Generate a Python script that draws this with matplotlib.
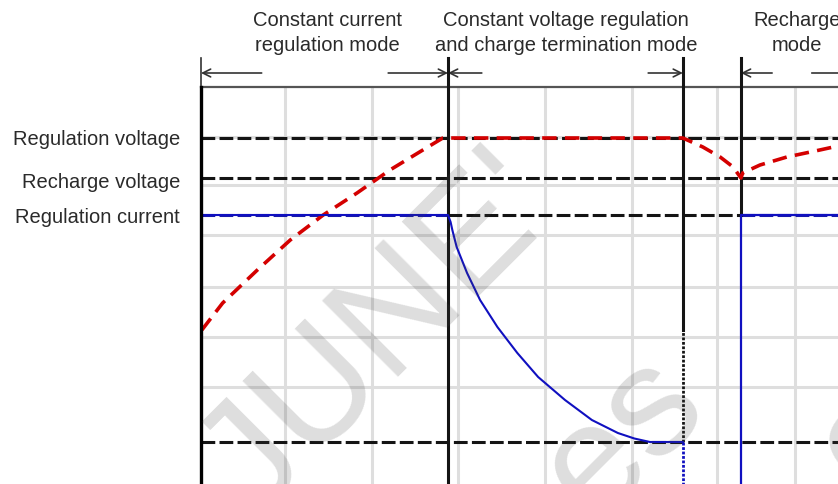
import numpy as np
import matplotlib.pyplot as plt

plt.rcParams['font.family'] = ['Liberation Sans', 'DejaVu Sans']

# levels in grid rows (1 unit = one grid row), times in grid columns
regulation_voltage = 6.98
recharge_voltage = 6.18
regulation_current = 5.44
termination_current = 0.9

t_cv_start = 2.85
t_terminate = 5.56
t_recharge = 6.23
t_end = 7.35

level_labels = ['Regulation voltage', 'Recharge voltage', 'Regulation current']
mode_labels = [('Constant current', 'regulation mode'),
               ('Constant voltage regulation', 'and charge termination mode'),
               ('Recharge', 'mode')]

# battery voltage (red)
v_time = [0.01, 0.25, 0.65, 1.03, 1.41, 1.80, 2.18, 2.56, 2.79, 2.85,
          5.56, 5.79, 5.99, 6.14, 6.23, 6.25, 6.45, 6.76, 7.14, 7.35]
v_level = [3.14, 3.68, 4.34, 4.94, 5.44, 5.88, 6.34, 6.74, 6.98, 6.98,
           6.98, 6.80, 6.60, 6.40, 6.18, 6.28, 6.44, 6.60, 6.74, 6.82]

# charge current (blue)
i_time = [0.0, 0.0, 2.85, 2.88, 2.90, 2.95, 3.07, 3.22, 3.42, 3.65, 3.89,
          4.20, 4.51, 4.81, 5.00, 5.18, 5.56]
i_level = [0.0, 5.44, 5.44, 5.30, 5.14, 4.80, 4.28, 3.74, 3.20, 2.68, 2.20,
           1.74, 1.34, 1.08, 0.97, 0.90, 0.90]
i2_time = [6.23, 6.23, 7.35]
i2_level = [0.0, 5.44, 5.44]

grid_x = [0.97, 1.97, 2.97, 3.97, 4.97, 5.95, 6.85]
grid_y = [2.0, 3.0, 4.0, 5.04, 6.04, 7.0]

W, H = 838, 484
fig = plt.figure(figsize=(W / 100, H / 100), dpi=100)
ax = fig.add_axes([201 / W, 0, (W - 201) / W, (H - 87) / H])
ax.set_xlim(0, t_end)
ax.set_ylim(0.06, 8.0)
ax.set_xticks([])
ax.set_yticks([])
for s in ['right', 'bottom']:
    ax.spines[s].set_visible(False)
ax.spines['left'].set_linewidth(2.4)
ax.spines['left'].set_zorder(6)
ax.spines['top'].set_color('#555555')
ax.spines['top'].set_linewidth(1.6)


def px(x, y):
    return x / W, 1 - y / H


# light grid
for gx in grid_x:
    ax.axvline(gx, color='#dedede', lw=2.2, zorder=1)
for gy in grid_y:
    ax.axhline(gy, color='#dedede', lw=2.2, zorder=1)

# dashed reference levels
dash = dict(color='#141414', lw=2.2, dashes=(4.5, 1.4), zorder=3)
for lvl in [regulation_voltage, recharge_voltage, termination_current]:
    ax.plot([0, t_end], [lvl, lvl], **dash)
ax.plot([t_cv_start, t_recharge], [regulation_current] * 2, **dash)
blue_dash = dict(dash, color='#1a1aa8')
ax.plot([0, t_cv_start], [regulation_current] * 2, **blue_dash)
ax.plot([t_recharge, t_end], [regulation_current] * 2, **blue_dash)

# mode boundaries
ax.plot([t_cv_start] * 2, [0, 8.58], color='#141414', lw=2.2, zorder=4,
        clip_on=False)
ax.plot([t_terminate] * 2, [3.14, 8.58], color='#141414', lw=2.2, zorder=4,
        clip_on=False)
ax.plot([t_terminate] * 2, [termination_current, 3.14], color='#141414',
        lw=2.0, ls=(0, (1, 0.6)), zorder=4)
ax.plot([t_terminate] * 2, [0, termination_current], color='#1010c0',
        lw=2.0, ls=(0, (1, 0.6)), zorder=4)
ax.plot([t_recharge] * 2, [regulation_current, 8.58], color='#141414',
        lw=2.2, zorder=4, clip_on=False)
ax.plot([0, 0], [8.0, 8.58], color='#333333', lw=1.2, clip_on=False)

# curves
ax.plot(v_time, v_level, color='#d40000', lw=2.6, dashes=(4.0, 2.3),
        zorder=5)
ax.plot(i_time, i_level, color='#1010c0', lw=1.5, zorder=5)
ax.plot(i2_time, i2_level, color='#1010c0', lw=1.6, zorder=5)

# mode arrows on top
arr = dict(arrowstyle='->', color='#333333', lw=1.2, mutation_scale=14,
           shrinkA=0, shrinkB=0)
ya = 8.28
for x0, x1 in [(0.70, 0), (2.16, t_cv_start), (3.24, t_cv_start),
               (5.16, t_terminate), (6.59, t_recharge)]:
    ax.annotate('', xy=(x1, ya), xytext=(x0, ya), arrowprops=arr,
                annotation_clip=False)
ax.plot([7.05, t_end], [ya, ya], color='#333333', lw=1.2, clip_on=False)

# mode texts
centers = [327, 566, 797]
for cx, (l1, l2) in zip(centers, mode_labels):
    fig.text(*px(cx, 26), l1, ha='center', va='baseline', fontsize=14.5,
             color='#2a2a2a')
    fig.text(*px(cx, 51), l2, ha='center', va='baseline', fontsize=14.5,
             color='#2a2a2a')

# level labels
for lab, yb in zip(level_labels, [145, 188, 223]):
    fig.text(*px(180, yb), lab, ha='right', va='baseline', fontsize=14.5,
             color='#2a2a2a')

# watermark (clipped by the plot area, as in the source image)
wm = dict(rotation=45, rotation_mode='anchor', ha='center', va='center',
          fontsize=112, color='#444444', alpha=0.18, zorder=7, clip_on=True)
ax.text(2.07, 3.04, "JUNE'", **wm)
ax.text(4.86, 1.0, 'es', **wm)
ax.text(7.72, 0.94, 'o', **wm)

fig.savefig('out.png', dpi=100)
